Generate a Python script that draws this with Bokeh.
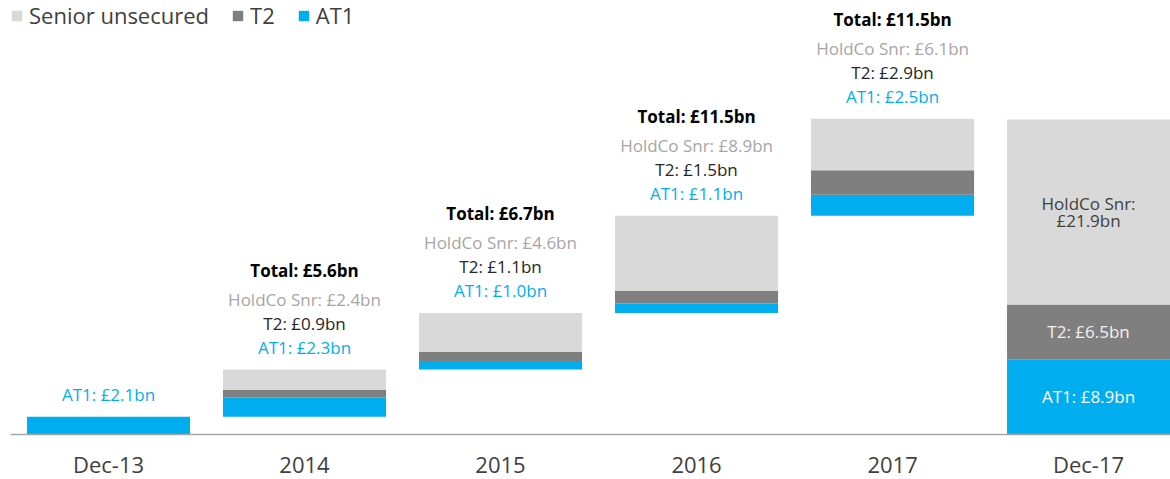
from bokeh.plotting import figure
from bokeh.models import (ColumnDataSource, LabelSet, Legend, LegendItem,
                          FixedTicker, Range1d)
from bokeh.core.properties import value
from bokeh.embed import file_html
from bokeh.resources import INLINE

categories = ["Dec-13", "2014", "2015", "2016", "2017", "Dec-17"]
at1 = [2.1, 2.3, 1.0, 1.1, 2.5, 8.9]
t2 = [0.0, 0.9, 1.1, 1.5, 2.9, 6.5]
snr = [0.0, 2.4, 4.6, 8.9, 6.1, 21.9]

BLUE = "#00AEEF"
DARK = "#7F7F7F"
LIGHT = "#D9D9D9"
FONT = "Open Sans"

n = len(categories)
xs = list(range(n))

# waterfall bases: each year starts where the previous ended, Dec-17 from zero
base = []
run = 0.0
for i in range(n):
    if i == n - 1:
        base.append(0.0)
    else:
        base.append(run)
        run += at1[i] + t2[i] + snr[i]
at1_top = [b + a for b, a in zip(base, at1)]
t2_top = [a + t for a, t in zip(at1_top, t2)]
snr_top = [t + s for t, s in zip(t2_top, snr)]
totals = [a + t + s for a, t, s in zip(at1, t2, snr)]

src = ColumnDataSource(dict(x=xs, base=base, at1_top=at1_top, t2_top=t2_top,
                            snr_top=snr_top))

p = figure(frame_width=1160, frame_height=434, x_range=Range1d(-0.5, 5.418),
           y_range=Range1d(0, 51.39), y_axis_location=None,
           output_backend="svg", toolbar_location=None,
           min_border_left=10, min_border_right=0, min_border_top=0,
           min_border_bottom=0)
p.outline_line_color = None
p.xgrid.visible = False
p.ygrid.visible = False
p.background_fill_color = "white"

W = 0.832
r_at1 = p.vbar(x="x", bottom="base", top="at1_top", width=W, source=src,
               fill_color=BLUE, line_color=None)
r_t2 = p.vbar(x="x", bottom="at1_top", top="t2_top", width=W, source=src,
              fill_color=DARK, line_color=None)
r_snr = p.vbar(x="x", bottom="t2_top", top="snr_top", width=W, source=src,
               fill_color=LIGHT, line_color=None)

ax = p.xaxis[0]
ax.ticker = FixedTicker(ticks=xs)
ax.major_label_overrides = {i: c for i, c in enumerate(categories)}
ax.major_tick_line_color = None
ax.major_tick_out = 0
ax.major_tick_in = 0
ax.minor_tick_line_color = None
ax.axis_line_color = "#A6A6A6"
ax.axis_line_width = 1.5
ax.major_label_text_font = FONT
ax.major_label_text_font_size = "22px"
ax.major_label_text_color = "#404040"
ax.major_label_standoff = 14

# labels above waterfall bars
idx_at1 = [i for i in range(n - 1)]
idx_rest = [i for i in range(1, n - 1)]


def fmt(v):
    return "£%.1fbn" % v


def add_labels(idx, texts, off, color, bold=False):
    s = ColumnDataSource(dict(x=[xs[i] for i in idx],
                              y=[snr_top[i] for i in idx],
                              t=texts))
    p.add_layout(LabelSet(x="x", y="y", text="t", source=s, y_offset=off,
                          text_align="center", text_baseline="middle",
                          text_font=value(FONT), text_font_size="17px",
                          text_color=color,
                          text_font_style="bold" if bold else "normal"))


add_labels(idx_at1, ["AT1: " + fmt(at1[i]) for i in idx_at1], 22, BLUE)
add_labels(idx_rest, ["T2: " + fmt(t2[i]) for i in idx_rest], 46, "#262626")
add_labels(idx_rest, ["HoldCo Snr: " + fmt(snr[i]) for i in idx_rest], 70,
           "#A6A6A6")
add_labels(idx_rest, ["Total: " + fmt(totals[i]) for i in idx_rest], 99,
           "#000000", bold=True)

# labels inside the Dec-17 bar
k = n - 1
inside = ColumnDataSource(dict(
    x=[xs[k]] * 4,
    y=[(t2_top[k] + snr_top[k]) / 2, (t2_top[k] + snr_top[k]) / 2,
       (at1_top[k] + t2_top[k]) / 2, (base[k] + at1_top[k]) / 2],
    t=["HoldCo Snr:", fmt(snr[k]), "T2: " + fmt(t2[k]), "AT1: " + fmt(at1[k])],
    c=["#404040", "#404040", "#F2F2F2", "#FFFFFF"],
    o=[8, -9, 0, 0]))
p.add_layout(LabelSet(x="x", y="y", text="t", source=inside, y_offset="o",
                      text_align="center", text_baseline="middle",
                      text_font=value(FONT), text_font_size="17px",
                      text_color="c"))

legend = Legend(items=[LegendItem(label="Senior unsecured", renderers=[r_snr]),
                       LegendItem(label="T2", renderers=[r_t2]),
                       LegendItem(label="AT1", renderers=[r_at1])],
                orientation="horizontal", location="top_left",
                margin=0, padding=4, spacing=22, label_standoff=6,
                glyph_width=13, glyph_height=13,
                label_text_font=FONT, label_text_font_size="22px",
                label_text_color="#404040",
                border_line_color=None, background_fill_alpha=0)
p.add_layout(legend)

open("out.html", "w").write(file_html(p, INLINE))
